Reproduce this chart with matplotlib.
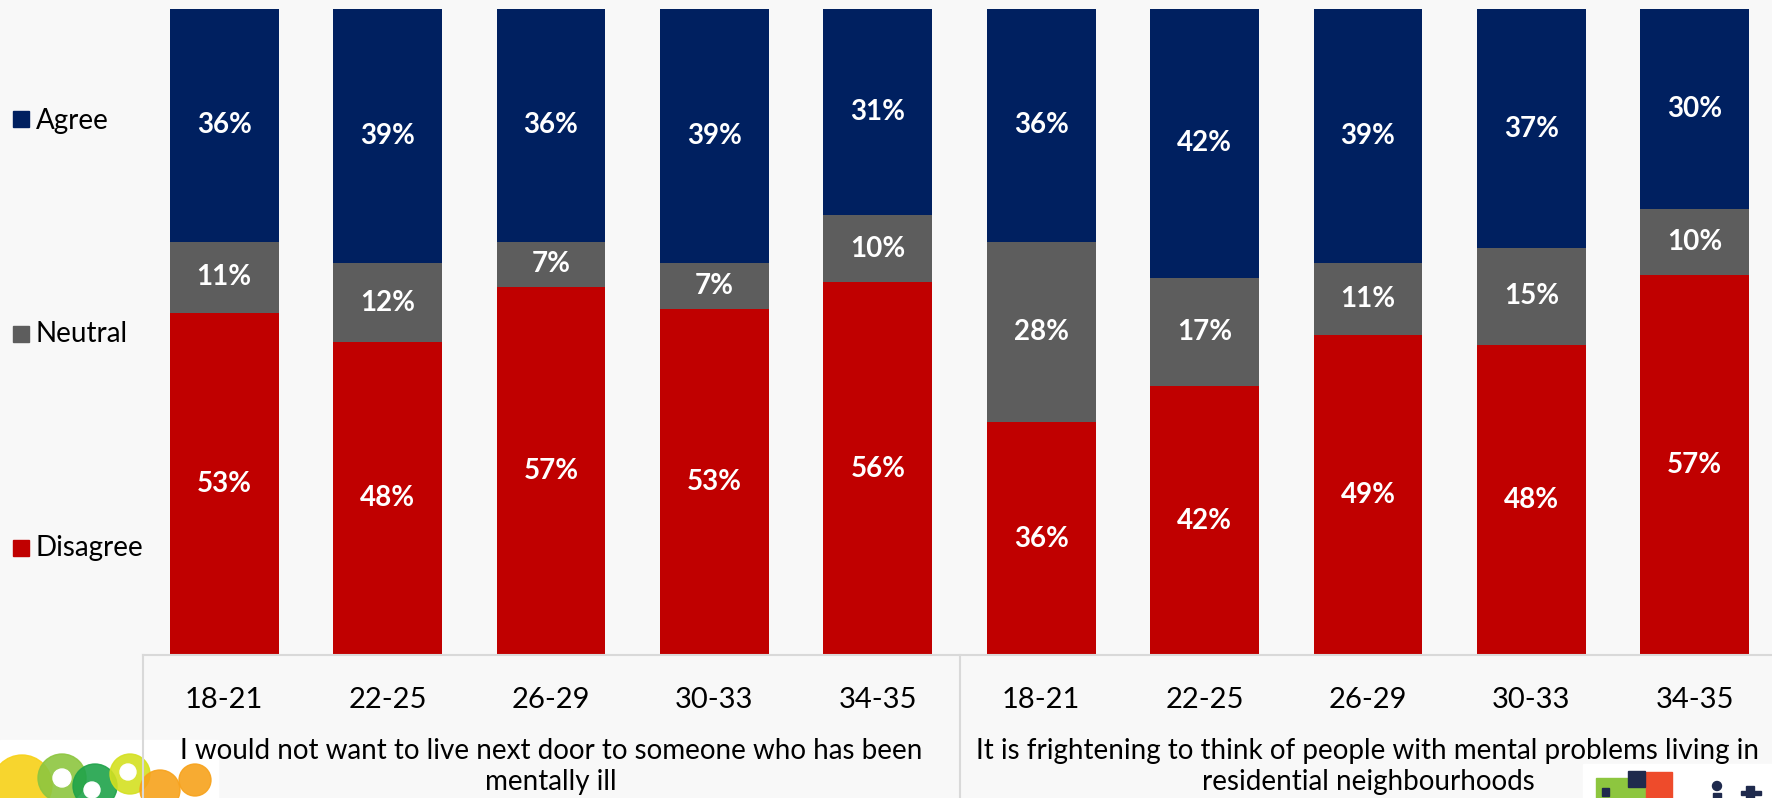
import matplotlib.pyplot as plt
from matplotlib.patches import Rectangle, Ellipse
import numpy as np

plt.rcParams['font.family'] = ['Lato', 'DejaVu Sans']

ages = ["18-21", "22-25", "26-29", "30-33", "34-35"]
statements = ["I would not want to live next door to someone who has been\nmentally ill",
              "It is frightening to think of people with mental problems living in\nresidential neighbourhoods"]
series = ["Agree", "Neutral", "Disagree"]
disagree = [53, 48, 57, 53, 56, 36, 42, 49, 48, 57]
neutral = [11, 12, 7, 7, 10, 28, 17, 11, 15, 10]
agree = [36, 39, 36, 39, 31, 36, 42, 39, 37, 30]

NAVY = '#002060'
GREY = '#5d5d5d'
RED = '#c00000'
BG = '#f8f8f8'
FRAME = '#d9d9d9'

W, H = 1772, 798


def fx(px):
	return px / W


def fy(py):
	return 1 - py / H


def box(x0, y0, w, h, c, z=-1, **kw):
	# rectangle given in pixels from the top-left corner
	fig.patches.append(Rectangle((fx(x0), fy(y0 + h)), w / W, h / H, transform=fig.transFigure,
								 color=c, zorder=z, **kw))


fig = plt.figure(figsize=(W / 100, H / 100), dpi=100, facecolor=BG)
ax = fig.add_axes([fx(142.5), fy(655), (1776.5 - 142.5) / W, (655 - 9) / H])
ax.set_facecolor(BG)

x = np.arange(len(agree))
d = np.array(disagree, float)
n = np.array(neutral, float)
a = np.array(agree, float)
tot = d + n + a
# 100% stacked
dn, nn, an = d / tot * 100, n / tot * 100, a / tot * 100

bw = 0.665
ax.bar(x, dn, bw, color=RED, zorder=2)
ax.bar(x, nn, bw, bottom=dn, color=GREY, zorder=2)
ax.bar(x, an, bw, bottom=dn + nn, color=NAVY, zorder=2)

for i in x:
	for val, lo, h in [(disagree[i], 0, dn[i]), (neutral[i], dn[i], nn[i]), (agree[i], dn[i] + nn[i], an[i])]:
		ax.text(i, lo + h / 2, f"{val}%", ha='center', va='center', color='white',
				fontsize=20, fontweight='bold', zorder=3)

ax.set_xlim(-0.5, 9.5)
ax.set_ylim(0, 100)
ax.set_xticks([])
ax.set_yticks([])
for s in ['top', 'left', 'right']:
	ax.spines[s].set_visible(False)
ax.spines['bottom'].set_color(FRAME)
ax.spines['bottom'].set_linewidth(1.5)

trans = ax.get_xaxis_transform()
for i in x:
	ax.text(i, -0.069, ages[i % 5], transform=trans, ha='center', va='center', fontsize=21, clip_on=False)
for g, txt in enumerate(statements):
	ax.text(2 + 5 * g, -0.129, txt, transform=trans, ha='center', va='top', fontsize=20,
			linespacing=1.2, clip_on=False)

# logos in the bottom corners
box(0, 740, 218, 58, 'white')
blobs = [((22, 785), 30, '#f7d117'), ((62, 778), 24, '#8dc63f'), ((95, 786), 22, '#1fa34a'),
		 ((130, 774), 20, '#d4e021'), ((160, 790), 20, '#f7a21b'), ((195, 780), 16, '#f7a21b')]
for (cx, cy), r, c in blobs:
	fig.patches.append(Ellipse((fx(cx), fy(cy)), 2 * r / W, 2 * r / H, transform=fig.transFigure,
							   color=c, alpha=0.9, zorder=-1))
for (cx, cy), r in [((62, 778), 9), ((92, 790), 8), ((128, 772), 8)]:
	fig.patches.append(Ellipse((fx(cx), fy(cy)), 2 * r / W, 2 * r / H, transform=fig.transFigure,
							   color='white', zorder=-1))

box(1583, 764, 189, 34, 'white')
box(1596, 778, 50, 20, '#8dc63f')
box(1646, 772, 26, 26, '#ee4b2b')
box(1628, 771, 17, 16, '#1f2a4d')
box(1602, 788, 7, 8, '#1f2a4d')
# letters of the logo
fig.patches.append(Ellipse((fx(1717), fy(786)), 9 / W, 9 / H, transform=fig.transFigure,
						   color='#1f2a4d', zorder=-1))
box(1713, 793, 8, 5, '#1f2a4d')
box(1746, 786, 8, 12, '#1f2a4d')
box(1741, 791, 20, 4, '#1f2a4d')

# frame lines below the bars
for xv in [-0.5, 4.5]:
	ax.plot([xv, xv], [0, -0.25], transform=trans, color=FRAME, lw=1.5, clip_on=False, zorder=5)

# legend on the left
colors = [NAVY, GREY, RED]
ys = [119, 334, 548]
bases = [129, 342, 556]
for lab, c, yc, yb in zip(series, colors, ys, bases):
	box(13, yc - 8, 16, 16, c, z=1)
	fig.text(fx(36), fy(yb), lab, fontsize=20, va='baseline')

fig.savefig('out.png', dpi=100, facecolor=BG)
